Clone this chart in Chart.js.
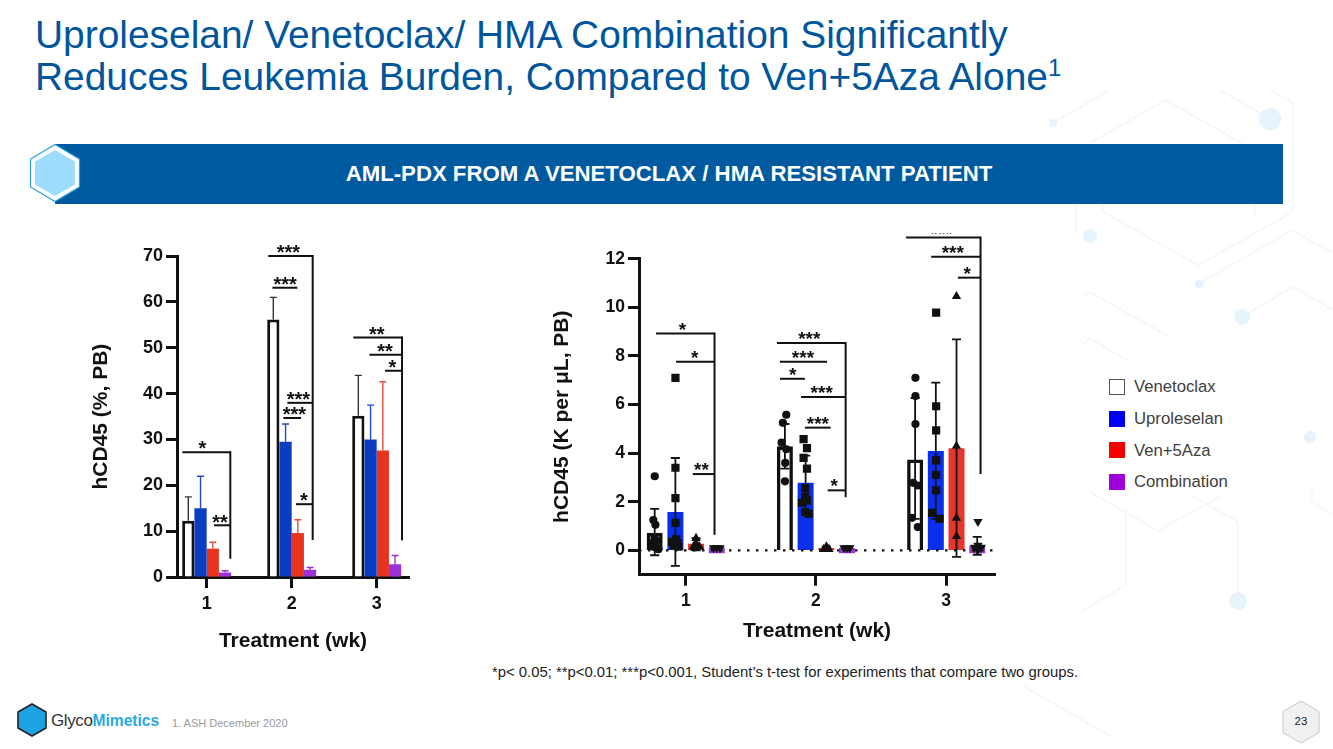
<!DOCTYPE html>
<html>
<head>
<meta charset="utf-8">
<title>Leukemia burden</title>
<script src="https://cdn.jsdelivr.net/npm/chart.js@4"></script>
<style>
    html, body { margin: 0; padding: 0; background: #fff; }
    body { width: 1333px; height: 749px; position: relative; overflow: hidden; font-family: "Liberation Sans", Arial, sans-serif; }
    .abs { position: absolute; white-space: nowrap; }
    canvas { position: absolute; }
    #title { left: 35px; top: 14px; font-size: 38.9px; line-height: 41.5px; color: #00569d; }
    #title sup { font-size: 24px; line-height: 0; vertical-align: 14px; }
    #banner { left: 55px; top: 144px; width: 1228px; height: 60px; background: #005aa0; }
    #bannerText { left: 55px; top: 144px; width: 1228px; height: 60px; line-height: 60px; text-align: center; color: #fff; font-weight: bold; font-size: 22.2px; }
    #footnote { left: 492px; top: 664px; font-size: 14.85px; color: #222; }
    #source { left: 172px; top: 717px; font-size: 11px; color: #9a9a9a; }
    #brand { left: 51px; top: 711px; font-size: 17px; color: #333; letter-spacing: -0.4px; }
    #brand b { color: #29abe2; letter-spacing: 0; font-size: 15.6px; }
    #pageNo { left: 1281px; top: 715px; width: 40px; text-align: center; font-size: 11.5px; color: #222; }
    .key { left: 1109px; width: 16px; height: 16px; box-sizing: border-box; }
    .keyText { left: 1134px; font-size: 16.7px; line-height: 18px; color: #404040; }
</style>
</head>
<body>

<svg class="abs" style="left:0;top:0" width="1333" height="749">
    <g fill="none" stroke="#f0f6fa" stroke-width="1.5">
        <polyline points="1053,123 1110,90"/>
        <polyline points="1090,143 1165,100 1242,143"/>
        <polyline points="1103,204 1103,212 1198,265 1293,212 1293,103 1270,90"/>
        <polyline points="1270,119 1220,90"/>
        <polyline points="1076,204 1076,233"/>
        <polyline points="1255,204 1255,217"/>
        <polyline points="1199,284 1292,230 1333,253"/>
        <polyline points="1242,317 1293,287 1333,310"/>
        <polyline points="1082,297 1090,292 1170,337"/>
        <polyline points="1082,345 1090,339 1127,360"/>
        <polyline points="1238,601 1238,522 1190,495"/>
        <polyline points="1090,492 1158,531 1223,495"/>
        <polyline points="1126,508 1126,585 1082,611"/>
        <polyline points="1023,686 1110,736"/>
        <polyline points="1312,490 1312,502 1333,514"/>
    </g>
    <g fill="#e6f3fb">
        <circle cx="1270" cy="119" r="11"/>
        <circle cx="1053" cy="123" r="4"/>
        <circle cx="1090" cy="236" r="7"/>
        <circle cx="1199" cy="284" r="4"/>
        <circle cx="1242" cy="317" r="8"/>
        <circle cx="1310" cy="437" r="6"/>
        <circle cx="1238" cy="601" r="9"/>
    </g>
</svg>

<div id="title" class="abs">Uproleselan/ Venetoclax/ HMA Combination Significantly<br>Reduces Leukemia Burden, Compared to Ven+5Aza Alone<sup>1</sup></div>
<div id="banner" class="abs"></div>
<svg class="abs" style="left:20px;top:140px" width="70" height="66">
    <polygon points="35,4.5 59.5,19 59.5,47 35,61.5 10.5,47 10.5,19" fill="#fff" stroke="#2a9fd8" stroke-width="1.2"/>
    <polygon points="35,10 55,21.5 55,44.5 35,56 15,44.5 15,21.5" fill="#9edcff"/>
</svg>
<div id="bannerText" class="abs">AML-PDX FROM A VENETOCLAX / HMA RESISTANT PATIENT</div>

<canvas id="percent-chart" width="350" height="430" style="left:80px;top:230px"></canvas>
<canvas id="count-chart" width="480" height="417" style="left:540px;top:233px"></canvas>

<div class="abs key" style="top:379px;background:#fff;border:1.5px solid #555"></div>
<div class="abs keyText" style="top:378px">Venetoclax</div>
<div class="abs key" style="top:411px;background:#0000f5"></div>
<div class="abs keyText" style="top:410px">Uproleselan</div>
<div class="abs key" style="top:442px;background:#f50000"></div>
<div class="abs keyText" style="top:442px">Ven+5Aza</div>
<div class="abs key" style="top:474px;background:#a000d8"></div>
<div class="abs keyText" style="top:473px">Combination</div>

<div id="footnote" class="abs">*p&lt; 0.05; **p&lt;0.01; ***p&lt;0.001, Student’s t-test for experiments that compare two groups.</div>

<svg class="abs" style="left:16px;top:702px" width="36" height="36">
    <polygon points="16,2 30,10 30,26 16,34 2,26 2,10" fill="#1ba3e4" stroke="#222" stroke-width="1.6"/>
</svg>
<div id="brand" class="abs">Glyco<b>Mimetics</b></div>
<div id="source" class="abs">1. ASH December 2020</div>
<svg class="abs" style="left:1278px;top:698px" width="46" height="48">
    <polygon points="23,3 41,13.5 41,34.5 23,45 5,34.5 5,13.5" fill="#f1f1f1" stroke="#c8c8c8" stroke-width="1"/>
</svg>
<div id="pageNo" class="abs">23</div>

<script>
const weeks = [1, 2, 3];
const seriesNames = ['Venetoclax', 'Uproleselan', 'Ven+5Aza', 'Combination'];

// hCD45 (%, PB)
const venPct = [12.3, 56.2, 35.2];
const upPct = [15, 29.5, 30];
const azaPct = [6.2, 9.6, 27.6];
const comboPct = [1, 1.6, 2.8];
const venPctErr = [17.5, 61, 44];
const upPctErr = [22, 33.4, 37.5];
const azaPctErr = [7.6, 12.5, 42.6];
const comboPctErr = [1.4, 2.1, 4.7];
const pctTicks = [0, 10, 20, 30, 40, 50, 60, 70];

// significance brackets, left chart
const pctBarFrom = [0.714, 1.086, 1.725, 1.773, 1.949, 1.902, 2.051, 2.725, 2.914, 3.098];
const pctBarTo = [1.278, 1.278, 2.247, 2.067, 2.247, 2.11, 2.247, 3.298, 3.298, 3.298];
const pctBarY = [27.25, 11.3, 70, 63.1, 38, 34.7, 15.9, 52.25, 48.5, 45];
const pctStars = ['*', '**', '***', '***', '***', '***', '*', '**', '**', '*'];
const pctStarX = [0.949, 1.157, 1.961, 1.922, 2.078, 2.031, 2.145, 3, 3.098, 3.184];
const pctDropX = [1.278, 2.247, 3.298];
const pctDropTop = [27.25, 70, 52.25];
const pctDropBottom = [4, 8.1, 8];

// hCD45 (K per uL, PB)
const venCount = [0.73, 4.28, 3.74];
const upCount = [1.58, 2.78, 4.09];
const azaCount = [0.27, 0.1, 4.2];
const comboCount = [0.12, 0.1, 0.18];
const venCountHigh = [1.71, 5.2, 6.27];
const venCountLow = [-0.2, 3.36, 1.3];
const upCountHigh = [3.8, 3.9, 6.9];
const upCountLow = [-0.64, 1.58, 1.3];
const azaCountHigh = [0.5, 0.15, 8.68];
const azaCountLow = [0, 0.05, -0.27];
const comboCountHigh = [0.16, 0.13, 0.56];
const comboCountLow = [0.06, 0.07, -0.18];
const countTicks = [0, 2, 4, 6, 8, 10, 12];

// individual animals
const venDotX = [0.762, 0.751, 0.767, 0.777, 0.738, 0.79, 0.76, 0.775, 0.75, 1.772, 1.746, 1.736, 1.772, 1.764, 1.762, 2.764, 2.764, 2.764, 2.746, 2.782, 2.738, 2.782];
const venDotY = [3.05, 1.25, 1.05, 0.1, 0.3, 0.05, 0.55, 0.4, 0.15, 5.58, 5.25, 4.43, 4.16, 3.6, 2.84, 7.1, 6.35, 5.2, 2.78, 2.67, 1.34, 0.96];
const upDotX = [0.921, 0.921, 0.921, 0.921, 0.926, 0.895, 0.936, 0.91, 0.944, 1.905, 1.931, 1.905, 1.931, 1.918, 1.918, 1.931, 1.892, 1.918, 1.944, 2.923, 2.923, 2.923, 2.923, 2.923, 2.923, 2.892, 2.949];
const upDotY = [7.1, 3.4, 2.15, 1.13, 0.45, 0.35, 0.3, 0.2, 0.15, 4.58, 4.21, 3.81, 3.36, 2.56, 2.2, 2.05, 1.96, 1.58, 1.5, 9.78, 5.93, 4.94, 3.7, 3.11, 2.47, 1.54, 1.3];
const azaDotX = [1.079, 1.059, 1.105, 1.079, 1.07, 2.06, 2.08, 2.1, 3.079, 3.079, 3.079, 3.079];
const azaDotY = [0.5, 0.15, 0.15, 0.3, 0.1, 0.05, 0.15, 0.05, 10.45, 4.29, 1.33, 0.58];
const comboDotX = [1.213, 1.238, 1.264, 2.215, 2.238, 2.26, 3.244, 3.218, 3.244, 3.269, 3.244];
const comboDotY = [0.1, 0.1, 0.1, 0.1, 0.1, 0.1, 1.18, 0.12, 0.2, 0.12, 0.02];

// significance brackets, right chart
const countBarFrom = [0.772, 0.926, 1.054, 1.7, 1.723, 1.723, 1.885, 1.915, 2.09, 2.692, 2.885, 3.09];
const countBarTo = [1.221, 1.221, 1.221, 2.228, 2.085, 1.915, 2.228, 2.113, 2.228, 3.264, 3.264, 3.264];
const countBarY = [8.92, 7.76, 3.14, 8.53, 7.76, 7.06, 6.31, 5.05, 2.47, 12.87, 12.08, 11.22];
const countStars = ['*', '*', '**', '***', '***', '*', '***', '***', '*', '***', '***', '*'];
const countStarX = [0.974, 1.069, 1.121, 1.949, 1.9, 1.821, 2.044, 2.015, 2.141, 2.964, 3.051, 3.162];
const countDropX = [1.221, 2.228, 3.264];
const countDropTop = [8.92, 8.53, 12.87];
const countDropBottom = [0.64, 2.19, 3.14];

const INK = '#111';
const FONT = '"Liberation Sans", Arial, sans-serif';

const toPoints = (xs, ys) => xs.map((x, i) => ({ x: x, y: ys[i] }));

// error bars from the arrays handed over in the plugin options, one set per bar dataset
const errorBars = {
    id: 'errorBars',
    afterDatasetsDraw (chart, args, opts) {
        const { ctx, scales: { y } } = chart;
        opts.high.forEach((highs, s) => {
            const bars = chart.getDatasetMeta(s).data;
            const values = chart.data.datasets[s].data;
            ctx.save();
            ctx.strokeStyle = opts.colors[s];
            ctx.lineWidth = opts.lineWidth;
            bars.forEach((bar, i) => {
                const top = y.getPixelForValue(highs[i]);
                const low = y.getPixelForValue(opts.low ? opts.low[s][i] : values[i].y);
                ctx.beginPath();
                ctx.moveTo(bar.x, low);
                ctx.lineTo(bar.x, top);
                ctx.moveTo(bar.x - opts.cap, top);
                ctx.lineTo(bar.x + opts.cap, top);
                if (opts.low) {
                    ctx.moveTo(bar.x - opts.cap, low);
                    ctx.lineTo(bar.x + opts.cap, low);
                }
                ctx.stroke();
            });
            ctx.restore();
        });
    }
};

const brackets = {
    id: 'brackets',
    afterDraw (chart, args, opts) {
        const { ctx, scales: { x, y } } = chart;
        ctx.save();
        ctx.strokeStyle = INK;
        ctx.fillStyle = INK;
        ctx.lineWidth = 2;
        ctx.textAlign = 'center';
        ctx.textBaseline = 'alphabetic';
        ctx.font = `bold ${opts.starSize}px ${FONT}`;
        opts.from.forEach((from, i) => {
            const py = y.getPixelForValue(opts.y[i]);
            ctx.beginPath();
            ctx.moveTo(x.getPixelForValue(from), py);
            ctx.lineTo(x.getPixelForValue(opts.to[i]), py);
            ctx.stroke();
            ctx.fillText(opts.stars[i], x.getPixelForValue(opts.starX[i]), py + opts.starDrop);
        });
        opts.dropX.forEach((dropX, i) => {
            const px = x.getPixelForValue(dropX);
            ctx.beginPath();
            ctx.moveTo(px, y.getPixelForValue(opts.dropTop[i]) - 1);
            ctx.lineTo(px, y.getPixelForValue(opts.dropBottom[i]));
            ctx.stroke();
        });
        ctx.restore();
    }
};

function axes ({ xMin, xMax, yMin, yMax, yTicks, yLabel, yWidth, xHeight, tickSize, titleSize, xTitlePad, yTitlePad, xTickPad }) {
    const grid = { drawOnChartArea: false, offset: false, tickLength: 11, tickWidth: 3, tickColor: INK };
    return {
        x: {
            type: 'linear',
            offset: false,
            min: xMin,
            max: xMax,
            grid: grid,
            border: { color: INK, width: 3 },
            afterBuildTicks: scale => { scale.ticks = weeks.map(value => ({ value })); },
            afterFit: scale => { scale.height = xHeight; },
            ticks: {
                autoSkip: false,
                maxRotation: 0,
                padding: xTickPad,
                color: INK,
                font: { family: FONT, size: tickSize, weight: 'bold' },
                callback: value => String(value)
            },
            title: {
                display: true,
                text: 'Treatment (wk)',
                color: INK,
                padding: { top: 0, bottom: xTitlePad },
                font: { family: FONT, size: titleSize, weight: 'bold' }
            }
        },
        y: {
            min: yMin,
            max: yMax,
            grid: grid,
            border: { color: INK, width: 3 },
            afterBuildTicks: scale => { scale.ticks = yTicks.map(value => ({ value })); },
            afterFit: scale => { scale.width = yWidth; },
            ticks: {
                autoSkip: false,
                padding: 3,
                color: INK,
                font: { family: FONT, size: tickSize, weight: 'bold' }
            },
            title: {
                display: true,
                text: yLabel,
                color: INK,
                padding: { top: yTitlePad, bottom: 0 },
                font: { family: FONT, size: titleSize, weight: 'bold' }
            }
        }
    };
}

const basePlugins = {
    legend: { display: false },
    title: { display: false },
    tooltip: { enabled: false }
};

new Chart(document.getElementById('percent-chart'), {
    type: 'bar',
    plugins: [errorBars, brackets],
    data: {
        datasets: [
            { label: seriesNames[0], data: toPoints(weeks, venPct), backgroundColor: '#fff', borderColor: INK, borderWidth: 3, borderSkipped: 'bottom' },
            { label: seriesNames[1], data: toPoints(weeks, upPct), backgroundColor: '#0b3dc2' },
            { label: seriesNames[2], data: toPoints(weeks, azaPct), backgroundColor: '#e8341f' },
            { label: seriesNames[3], data: toPoints(weeks, comboPct), backgroundColor: '#9a32d6' }
        ]
    },
    options: {
        responsive: false,
        animation: false,
        devicePixelRatio: 1,
        layout: { padding: { top: 26.1, right: 21, bottom: 0, left: 0 } },
        datasets: { bar: { categoryPercentage: 49 / 85, barPercentage: 1 } },
        scales: axes({
            xMin: 0.651, xMax: 3.38, yMin: 0, yMax: 70, yTicks: pctTicks,
            yLabel: 'hCD45 (%, PB)', yWidth: 97, xHeight: 82.9,
            tickSize: 18, titleSize: 21, xTitlePad: 6, yTitlePad: 9, xTickPad: 5
        }),
        plugins: {
            ...basePlugins,
            errorBars: {
                high: [venPctErr, upPctErr, azaPctErr, comboPctErr],
                colors: ['#333', '#2348c8', '#ef4a3a', '#9b30d8'],
                lineWidth: 1.4,
                cap: 3.5
            },
            brackets: {
                from: pctBarFrom, to: pctBarTo, y: pctBarY, stars: pctStars, starX: pctStarX,
                dropX: pctDropX, dropTop: pctDropTop, dropBottom: pctDropBottom,
                starSize: 20, starDrop: 3.3
            }
        }
    }
});

new Chart(document.getElementById('count-chart'), {
    type: 'bar',
    plugins: [errorBars, brackets],
    data: {
        datasets: [
            { label: seriesNames[0], order: 2, data: toPoints(weeks, venCount), backgroundColor: '#fff', borderColor: INK, borderWidth: 3.6, borderSkipped: 'bottom' },
            { label: seriesNames[1], order: 2, data: toPoints(weeks, upCount), backgroundColor: '#0a30ee' },
            { label: seriesNames[2], order: 2, data: toPoints(weeks, azaCount), backgroundColor: '#e8352a' },
            { label: seriesNames[3], order: 2, data: toPoints(weeks, comboCount), backgroundColor: '#9b3bd0', base: -0.12 },
            { type: 'line', order: 1, data: [{ x: 0.641, y: 0 }, { x: 3.375, y: 0 }], borderColor: INK, borderWidth: 2.4, borderDash: [2.5, 6.5], pointRadius: 0 },
            { type: 'scatter', order: 0, data: toPoints(venDotX, venDotY), pointStyle: 'circle', pointRadius: 4.1, backgroundColor: INK, borderWidth: 0 },
            { type: 'scatter', order: 0, data: toPoints(upDotX, upDotY), pointStyle: 'rect', pointRadius: 5.8, backgroundColor: INK, borderWidth: 0 },
            { type: 'scatter', order: 0, data: toPoints(azaDotX, azaDotY), pointStyle: 'triangle', pointRadius: 5.4, backgroundColor: INK, borderWidth: 0 },
            { type: 'scatter', order: 0, data: toPoints(comboDotX, comboDotY), pointStyle: 'triangle', pointRotation: 180, pointRadius: 5.4, backgroundColor: INK, borderWidth: 0 }
        ]
    },
    options: {
        responsive: false,
        animation: false,
        devicePixelRatio: 1,
        layout: { padding: { top: 25.7, right: 25, bottom: 0, left: 0 } },
        datasets: { bar: { categoryPercentage: 82.8 / 130.2, barPercentage: 16 / 20.7 } },
        scales: axes({
            xMin: 0.641, xMax: 3.375, yMin: -1, yMax: 12, yTicks: countTicks,
            yLabel: 'hCD45 (K per μL, PB)', yWidth: 99, xHeight: 75.3,
            tickSize: 17.5, titleSize: 21, xTitlePad: 6, yTitlePad: 10, xTickPad: 5
        }),
        plugins: {
            ...basePlugins,
            errorBars: {
                high: [venCountHigh, upCountHigh, azaCountHigh, comboCountHigh],
                low: [venCountLow, upCountLow, azaCountLow, comboCountLow],
                colors: [INK, INK, INK, INK],
                lineWidth: 1.8,
                cap: 4.5
            },
            brackets: {
                from: countBarFrom, to: countBarTo, y: countBarY, stars: countStars, starX: countStarX,
                dropX: countDropX, dropTop: countDropTop, dropBottom: countDropBottom,
                starSize: 19, starDrop: 2
            }
        }
    }
});
</script>
</body>
</html>
